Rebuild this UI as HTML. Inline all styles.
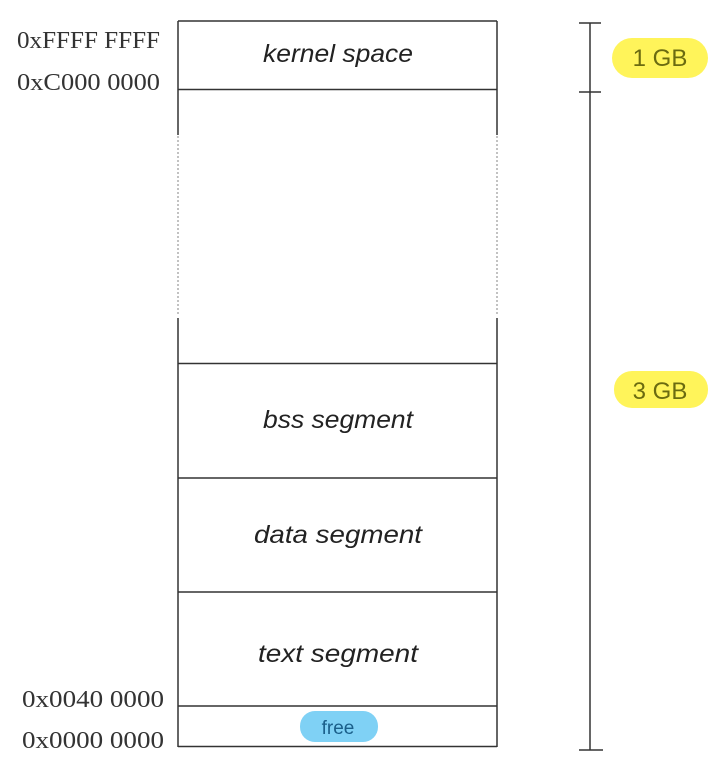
<!DOCTYPE html>
<html><head><meta charset="utf-8"><style>
html,body{margin:0;padding:0;background:#fff;width:718px;height:779px;overflow:hidden}
svg{display:block}
</style></head><body>
<svg width="718" height="779" xmlns="http://www.w3.org/2000/svg">
<g stroke="#333" stroke-width="1.5" fill="none">
<line x1="178" y1="21" x2="497" y2="21"/>
<line x1="178" y1="89.5" x2="497" y2="89.5"/>
<line x1="178" y1="363.5" x2="497" y2="363.5"/>
<line x1="178" y1="478" x2="497" y2="478"/>
<line x1="178" y1="592" x2="497" y2="592"/>
<line x1="178" y1="706" x2="497" y2="706"/>
<line x1="178" y1="746.5" x2="497" y2="746.5"/>
<line x1="178" y1="21" x2="178" y2="135"/>
<line x1="497" y1="21" x2="497" y2="135"/>
<line x1="178" y1="318" x2="178" y2="747"/>
<line x1="497" y1="318" x2="497" y2="747"/>
<line x1="590" y1="23" x2="590" y2="750"/>
<line x1="579" y1="23" x2="601" y2="23"/>
<line x1="579" y1="92" x2="601" y2="92"/>
<line x1="579" y1="750" x2="603" y2="750"/>
</g>
<g stroke="#999" stroke-width="1.2" stroke-dasharray="2,2">
<line x1="178" y1="136" x2="178" y2="316"/>
<line x1="497" y1="136" x2="497" y2="316"/>
</g>
<rect x="612" y="38" width="96" height="40" rx="20" fill="#fff45a"/>
<rect x="614" y="371" width="94" height="37" rx="18" fill="#fff45a"/>
<rect x="300" y="711" width="78" height="31" rx="15" fill="#7fd1f5"/>
<g font-family="Liberation Sans, sans-serif" fill="#222" font-style="italic" font-size="25" text-anchor="middle">
<text x="338" y="62" textLength="150" lengthAdjust="spacingAndGlyphs">kernel space</text>
<text x="338" y="428" textLength="150" lengthAdjust="spacingAndGlyphs">bss segment</text>
<text x="338" y="543" textLength="168" lengthAdjust="spacingAndGlyphs">data segment</text>
<text x="338" y="662" textLength="160" lengthAdjust="spacingAndGlyphs">text segment</text>
</g>
<text x="338" y="734" font-family="Liberation Sans, sans-serif" font-size="19" fill="#1a5f8a" text-anchor="middle">free</text>
<g font-family="Liberation Sans, sans-serif" font-size="24" fill="#6b6b10" text-anchor="middle">
<text x="660" y="66">1 GB</text>
<text x="660" y="399">3 GB</text>
</g>
<g font-family="Liberation Serif, serif" font-size="24" fill="#333">
<text x="17" y="48" textLength="143" lengthAdjust="spacingAndGlyphs">0xFFFF FFFF</text>
<text x="17" y="90" textLength="143" lengthAdjust="spacingAndGlyphs">0xC000 0000</text>
<text x="22" y="707" textLength="142" lengthAdjust="spacingAndGlyphs">0x0040 0000</text>
<text x="22" y="748" textLength="142" lengthAdjust="spacingAndGlyphs">0x0000 0000</text>
</g>
</svg>
</body></html>
